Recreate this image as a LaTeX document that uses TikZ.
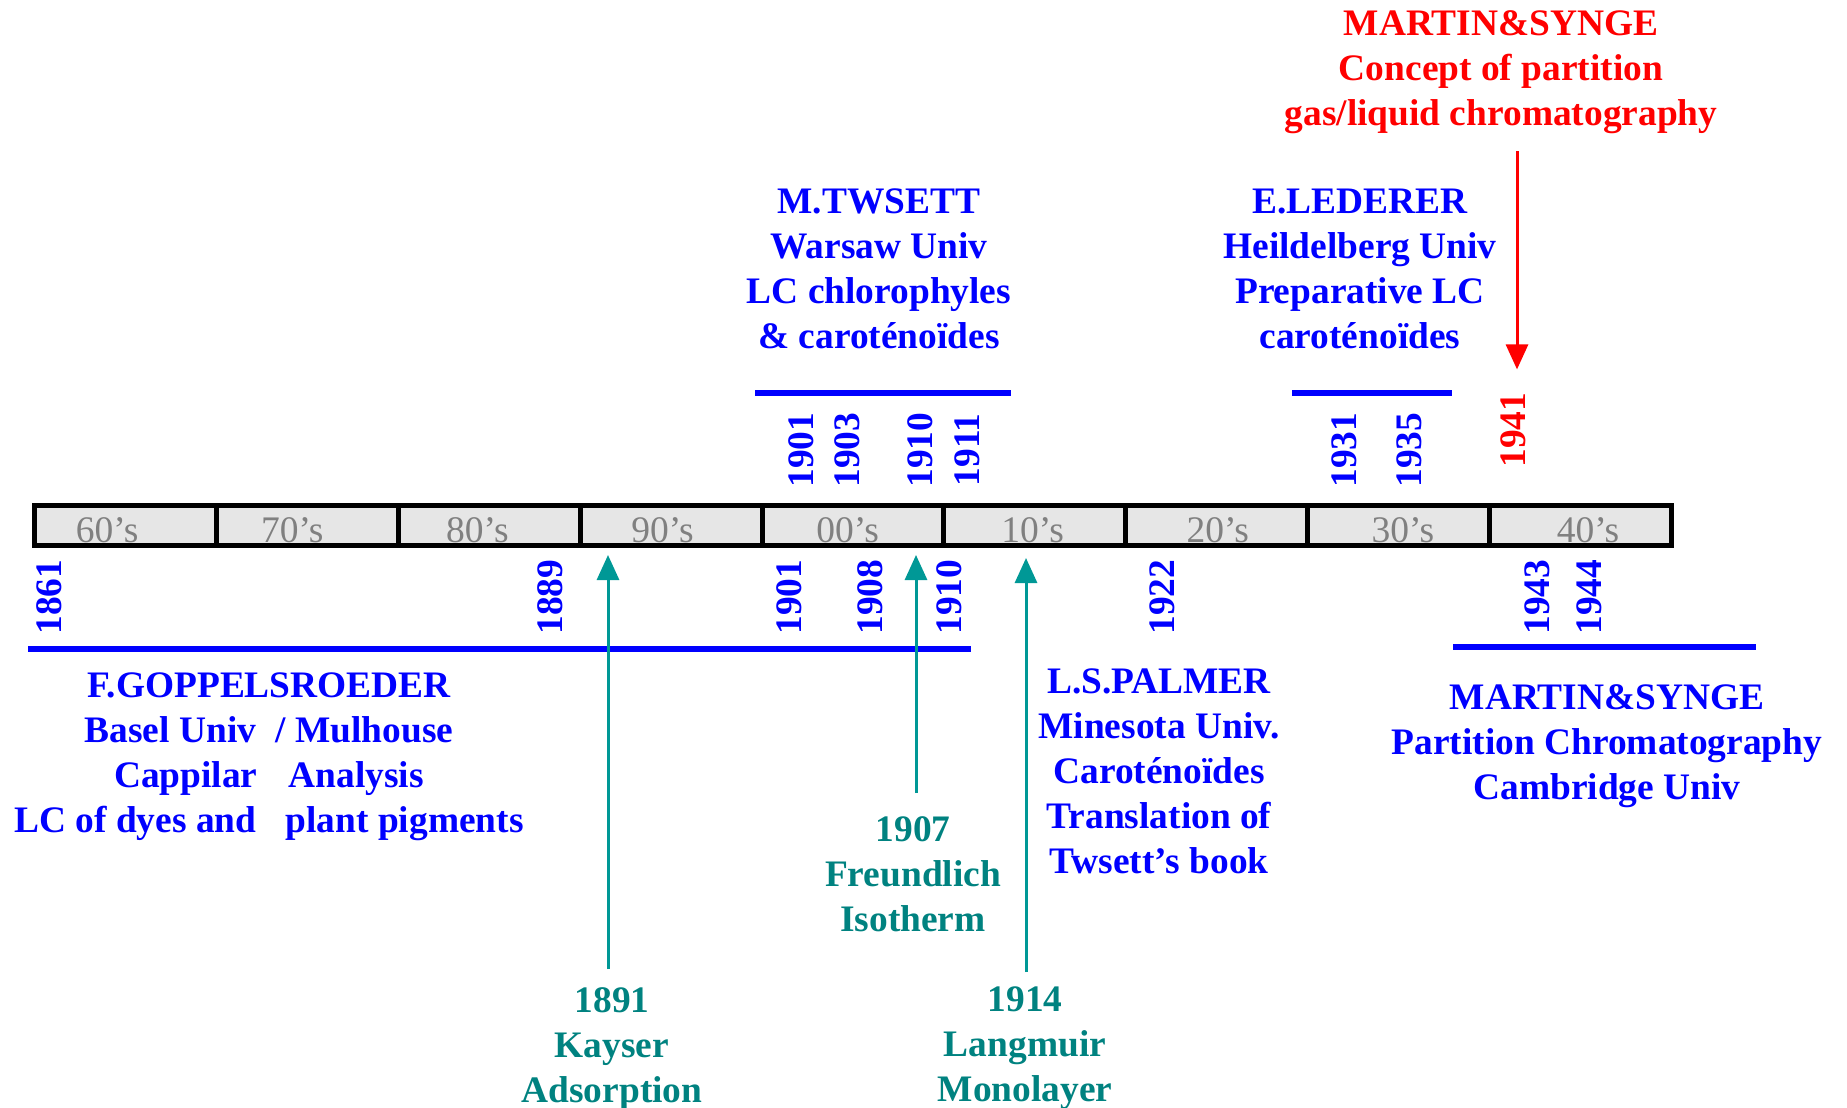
\documentclass[tikz,border=0pt]{standalone}
\usepackage{fontspec}
\setmainfont{Liberation Serif}
\usetikzlibrary{arrows.meta}
\definecolor{tblue}{RGB}{0,0,255}
\definecolor{tred}{RGB}{255,0,0}
\definecolor{tteal}{RGB}{0,130,128}
\definecolor{tarrow}{RGB}{0,152,150}
\definecolor{tgrey}{RGB}{128,128,128}
\definecolor{cellfill}{RGB}{230,230,230}
\tikzset{
  lbl/.style={font=\fontsize{37.4}{45}\selectfont\bfseries, align=center, inner sep=0pt, anchor=north},
  bluelbl/.style={lbl, text=tblue},
  redlbl/.style={lbl, text=tred},
  teallbl/.style={lbl, text=tteal},
  yearlbl/.style={font=\fontsize{37.4}{45}\selectfont\bfseries, inner sep=0pt, rotate=90, text=tblue},
  decade/.style={draw=black, line width=5pt, fill=cellfill, minimum width=181.89pt, minimum height=40pt, inner sep=0pt},
  decadetxt/.style={text=tgrey, font=\fontsize{37.5}{44}\selectfont, inner sep=0pt, anchor=base},
  bracket/.style={draw=tblue, line width=6pt},
  tealarrow/.style={draw=tarrow, line width=3pt, -{Triangle[width=22pt,length=25pt]}},
  redarrow/.style={draw=tred, line width=3pt, -{Triangle[width=22pt,length=25pt]}},
}
\begin{document}
\begin{tikzpicture}[x=1pt,y=-1pt]
\useasboundingbox (0,0) rectangle (1847,1108);

% timeline
\foreach \lab [count=\i from 0] in {60’s,70’s,80’s,90’s,00’s,10’s,20’s,30’s,40’s}{
  \node[decade] (d\i) at ({34.5+181.89*(\i+0.5)},525.5) {};
  \node[decadetxt] (dl\i) at ({107.2+185.1*\i},542) {\lab};
}

% upper texts
\node[redlbl] (msred) at (1501,10) {MARTIN\&SYNGE\\Concept of partition\\gas/liquid chromatography};
\node[bluelbl] (twsett) at (879,189) {M.TWSETT\\Warsaw Univ\\LC chlorophyles\\\& caroténoïdes};
\node[bluelbl] (lederer) at (1360,189) {E.LEDERER\\Heildelberg Univ\\Preparative LC\\caroténoïdes};

% upper brackets
\draw[bracket] (755,393) -- (1011,393);
\draw[bracket] (1292,393) -- (1452,393);

% upper years
\node[yearlbl] (u1901) at (801,450) {1901};
\node[yearlbl] (u1903) at (847,450) {1903};
\node[yearlbl] (u1910) at (920,450) {1910};
\node[yearlbl] (u1911) at (967,450) {1911};
\node[yearlbl] (u1931) at (1344,450) {1931};
\node[yearlbl] (u1935) at (1409,450) {1935};
\node[yearlbl, text=tred] (y1941) at (1513,430) {1941};

% red arrow
\coordinate (rs) at (1517,151);
\draw[redarrow, shorten >=23pt] (rs) -- (rs |- y1941.east);

% lower years
\node[yearlbl] (l1861) at (49,597) {1861};
\node[yearlbl] (l1889) at (550,597) {1889};
\node[yearlbl] (l1901) at (789,597) {1901};
\node[yearlbl] (l1908) at (870,597) {1908};
\node[yearlbl] (l1910) at (949,597) {1910};
\node[yearlbl] (l1922) at (1162,597) {1922};
\node[yearlbl] (l1943) at (1537,597) {1943};
\node[yearlbl] (l1944) at (1589,597) {1944};

% lower brackets
\draw[bracket] (28,649) -- (971,649);
\draw[bracket] (1453,647) -- (1756,647);

% lower texts
\node[bluelbl] (gopp) at (269,673) {F.GOPPELSROEDER\\Basel Univ\hspace{10pt} / Mulhouse\\Cappilar\hspace{22pt} Analysis\\LC of dyes and\hspace{20pt} plant pigments};
\node[bluelbl] (palmer) at (1159,669) {L.S.PALMER\\Minesota Univ.\\Caroténoïdes\\Translation of\\Twsett’s book};
\node[bluelbl] (msblue) at (1607,684) {MARTIN\&SYNGE\\Partition Chromatography\\Cambridge Univ};

% teal labels and arrows
\node[teallbl] (k1891) at (612,987) {1891\\Kayser\\Adsorption};
\node[teallbl] (f1907) at (913,816) {1907\\Freundlich\\Isotherm};
\node[teallbl] (l1914) at (1025,987) {1914\\Langmuir\\Monolayer};
\coordinate (t1891) at (608,555);
\coordinate (t1907) at (916,555);
\coordinate (t1914) at (1026,558);
\draw[tealarrow, shorten <=18pt] (k1891.north -| t1891) -- (t1891);
\draw[tealarrow, shorten <=23pt] (f1907.north -| t1907) -- (t1907);
\draw[tealarrow, shorten <=15pt] (l1914.north -| t1914) -- (t1914);
\end{tikzpicture}
\end{document}
